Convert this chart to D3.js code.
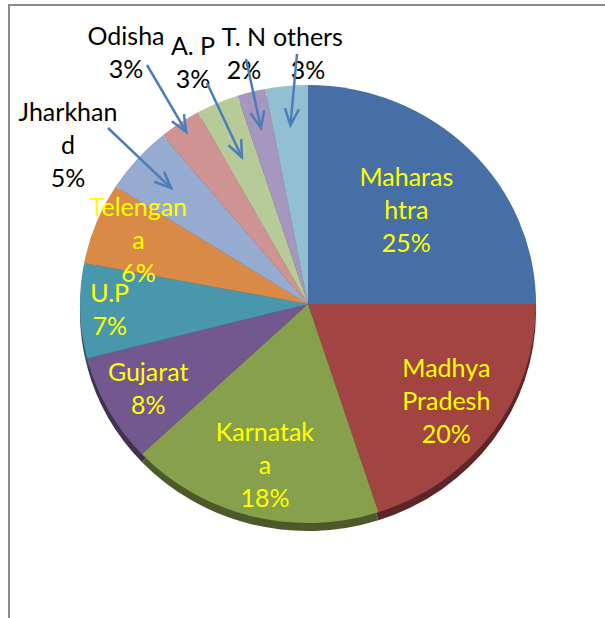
<!DOCTYPE html>
<html>
<head>
<meta charset="utf-8">
<script src="https://cdn.jsdelivr.net/npm/d3@7"></script>
<style>
  body { margin: 0; background: #fff; }
  svg { display: block; }
  text { font-family: Lato, "Open Sans", sans-serif; }
</style>
</head>
<body>
<div id="chart"></div>
<script>
var categories = ["Maharashtra", "Madhya Pradesh", "Karnataka", "Gujarat", "U.P",
                  "Telengana", "Jharkhand", "Odisha", "A. P", "T. N", "others"];
var values = [25, 20, 18, 8, 7, 6, 5, 3, 3, 2, 3];
var colors = ["#4670a5", "#a14442", "#87a04c", "#735890", "#4897ac",
              "#da8a47", "#95abd0", "#d09393", "#b6cb98", "#a597bd", "#92c0d0"];

// how Excel wrapped the label names
var wrapped = [["Maharas", "htra"], ["Madhya", "Pradesh"], ["Karnatak", "a"], ["Gujarat"], ["U.P"],
               ["Telengan", "a"], ["Jharkhan", "d"], ["Odisha"], ["A. P"], ["T. N"], ["others"]];

// inside labels: fraction of radius along mid angle
var insideR = {0: 0.61, 1: 0.75, 2: 0.76, 3: 0.8, 4: 0.87, 5: 0.8};
// callouts: label centre, arrow start, arrow end fraction
var callouts = {
  6:  {x: 68,  y: 145, sx: 108, sy: 128, f: 0.8},
  7:  {x: 126, y: 52,  sx: 147, sy: 65,  f: 0.95},
  8:  {x: 193, y: 62,  sx: 207, sy: 83,  f: 0.73},
  9:  {x: 244, y: 53,  sx: 246, sy: 59,  f: 0.83},
  10: {x: 308, y: 53,  sx: 297, sy: 54,  f: 0.82}
};

var width = 605, height = 618,
    cx = 308, cy = 304, rx = 228, ry = 219,
    lineH = 33, depth = 8;

var svg = d3.select("#chart").append("svg")
    .attr("width", width)
    .attr("height", height);

// frame
svg.append("path")
    .attr("d", "M9,618 V5 H605")
    .attr("fill", "none")
    .attr("stroke", "#8c8c8c")
    .attr("stroke-width", 2);

var pie = d3.pie().sort(null).value(function (d) { return d; });
var arcs = pie(values);
var arc = d3.arc().innerRadius(0).outerRadius(1);

// dark rim under the face
svg.append("g")
    .attr("transform", "translate(" + cx + "," + (cy + depth) + ") scale(" + rx + "," + ry + ")")
  .selectAll("path")
  .data(arcs)
  .enter().append("path")
    .attr("d", arc)
    .attr("fill", function (d, i) { return d3.color(colors[i]).darker(1.6); });

var face = svg.append("g")
    .attr("transform", "translate(" + cx + "," + cy + ") scale(" + rx + "," + ry + ")");

face.selectAll("path")
  .data(arcs)
  .enter().append("path")
    .attr("d", arc)
    .attr("fill", function (d, i) { return colors[i]; });

function pt(d, f) {
  var a = (d.startAngle + d.endAngle) / 2;
  return [cx + rx * f * Math.sin(a), cy - ry * f * Math.cos(a)];
}

function pctText(i) {
  return Math.round(values[i] / d3.sum(values) * 100) + "%";
}

function drawLabel(x, y, lines, color) {
  var n = lines.length;
  var t = svg.append("text")
      .attr("text-anchor", "middle")
      .attr("font-size", 25)
      .attr("fill", color);
  lines.forEach(function (s, k) {
    t.append("tspan")
      .attr("x", x)
      .attr("y", y + (k - (n - 1) / 2) * lineH)
      .attr("dy", "0.36em")
      .text(s);
  });
}

arcs.forEach(function (d, i) {
  var lines = wrapped[i].concat([pctText(i)]);
  if (insideR[i] !== undefined) {
    var p = pt(d, insideR[i]);
    drawLabel(p[0], p[1], lines, "#ffff00");
  } else {
    var c = callouts[i];
    drawLabel(c.x, c.y, lines, "#000");
  }
});

// callout arrows
var arrowColor = "#4a7ebb";
arcs.forEach(function (d, i) {
  var c = callouts[i];
  if (!c) return;
  var e = pt(d, c.f);
  var ang = Math.atan2(e[1] - c.sy, e[0] - c.sx);
  var hl = 18, spread = 0.4;
  svg.append("line")
      .attr("x1", c.sx).attr("y1", c.sy)
      .attr("x2", e[0]).attr("y2", e[1])
      .attr("stroke", arrowColor)
      .attr("stroke-width", 2.5);
  svg.append("path")
      .attr("d", "M" + (e[0] - hl * Math.cos(ang - spread)) + "," + (e[1] - hl * Math.sin(ang - spread)) +
                 " L" + e[0] + "," + e[1] +
                 " L" + (e[0] - hl * Math.cos(ang + spread)) + "," + (e[1] - hl * Math.sin(ang + spread)))
      .attr("fill", "none")
      .attr("stroke", arrowColor)
      .attr("stroke-width", 2.5)
      .attr("stroke-linejoin", "miter");
});
</script>
</body>
</html>
